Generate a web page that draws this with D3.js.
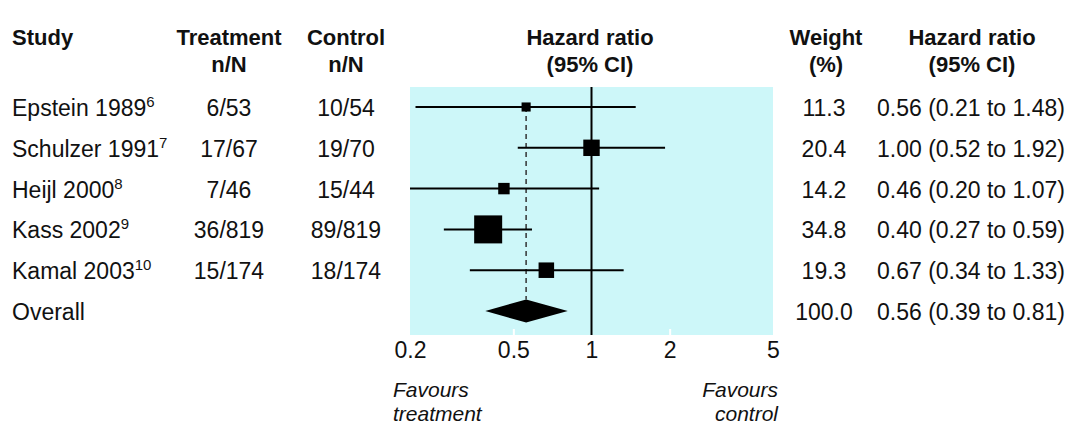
<!DOCTYPE html>
<html>
<head>
<meta charset="utf-8">
<script src="https://cdn.jsdelivr.net/npm/d3@7/dist/d3.min.js"></script>
<style>
  html, body { margin: 0; padding: 0; background: #fff; }
  svg { display: block; }
  .txt { font-family: "Liberation Sans", Arial, sans-serif; fill: #111; }
  .reg { font-size: 23px; }
  .hdr { font-size: 22px; font-weight: bold; }
  .ital { font-size: 21px; font-style: italic; }
</style>
</head>
<body>
<svg id="chart" width="1074" height="436"></svg>
<script>
// Trials in the meta-analysis
const studies = ["Epstein 1989", "Schulzer 1991", "Heijl 2000", "Kass 2002", "Kamal 2003"];
const refs = ["6", "7", "8", "9", "10"];
const treatment = ["6/53", "17/67", "7/46", "36/819", "15/174"];
const control = ["10/54", "19/70", "15/44", "89/819", "18/174"];
const weights = [11.3, 20.4, 14.2, 34.8, 19.3];
const hazard = [0.56, 1.00, 0.46, 0.40, 0.67];
const lower = [0.21, 0.52, 0.20, 0.27, 0.34];
const upper = [1.48, 1.92, 1.07, 0.59, 1.33];

// Pooled estimate
const overallLabel = "Overall";
const overallWeight = 100.0;
const overallHazard = 0.56;
const overallLower = 0.39;
const overallUpper = 0.81;

// Axis
const tickValues = [0.2, 0.5, 1, 2, 5];
const tickLabels = ["0.2", "0.5", "1", "2", "5"];

const svg = d3.select("#chart");

const x = d3.scaleLog().domain([0.2, 5]).range([410, 773]);
const y = d3.scaleLinear().domain([0, studies.length]).range([107, 311]);
const side = d3.scaleLinear().domain([0, 34.8]).range([0, 28]);

const plotTop = 87, plotBottom = 335;

// Shaded plotting panel
svg.append("rect")
  .attr("x", x(0.2)).attr("y", plotTop)
  .attr("width", x(5) - x(0.2)).attr("height", plotBottom - plotTop)
  .attr("fill", "#cdf7f9");

// Small white ticks inside the panel
svg.append("g")
  .attr("transform", `translate(0,${plotBottom})`)
  .call(d3.axisBottom(x).tickValues([0.5, 2]).tickSize(-6).tickFormat(""))
  .call(g => g.select(".domain").remove())
  .call(g => g.selectAll("line").attr("stroke", "#fff").attr("stroke-width", 2));

// Tick labels
svg.append("g")
  .attr("transform", `translate(0,${plotBottom})`)
  .call(d3.axisBottom(x).tickValues(tickValues).tickSize(0).tickPadding(7)
    .tickFormat((d, i) => tickLabels[i]))
  .call(g => g.select(".domain").remove())
  .call(g => g.selectAll("text").attr("class", "txt reg").attr("fill", "#111"));
svg.selectAll("g").attr("font-family", null).attr("font-size", null);

// Line of no effect
svg.append("line")
  .attr("x1", x(1)).attr("x2", x(1))
  .attr("y1", plotTop).attr("y2", plotBottom)
  .attr("stroke", "#000").attr("stroke-width", 2);

// Dashed line at the pooled estimate
const dSize = 23;
svg.append("line")
  .attr("x1", x(overallHazard)).attr("x2", x(overallHazard))
  .attr("y1", y(0)).attr("y2", y(studies.length) - dSize / 2)
  .attr("stroke", "#333").attr("stroke-width", 1.5)
  .attr("stroke-dasharray", "5,4");

// Confidence intervals
svg.append("g").selectAll("line")
  .data(studies)
  .join("line")
  .attr("x1", (d, i) => x(lower[i]))
  .attr("x2", (d, i) => x(upper[i]))
  .attr("y1", (d, i) => y(i)).attr("y2", (d, i) => y(i))
  .attr("stroke", "#000").attr("stroke-width", 2);

// Weighted squares
svg.append("g").selectAll("rect")
  .data(studies)
  .join("rect")
  .attr("x", (d, i) => x(hazard[i]) - side(weights[i]) / 2)
  .attr("y", (d, i) => y(i) - side(weights[i]) / 2)
  .attr("width", (d, i) => side(weights[i]))
  .attr("height", (d, i) => side(weights[i]))
  .attr("fill", "#000");

// Pooled diamond
const yo = y(studies.length);
svg.append("path")
  .attr("d", `M${x(overallLower)},${yo} L${x(overallHazard)},${yo - dSize / 2} L${x(overallUpper)},${yo} L${x(overallHazard)},${yo + dSize / 2} Z`)
  .attr("fill", "#000");

// Column headers
const headers = [
  { x: 12, anchor: "start", lines: ["Study"] },
  { x: 229, anchor: "middle", lines: ["Treatment", "n/N"] },
  { x: 346, anchor: "middle", lines: ["Control", "n/N"] },
  { x: 590, anchor: "middle", lines: ["Hazard ratio", "(95% CI)"] },
  { x: 826, anchor: "middle", lines: ["Weight", "(%)"] },
  { x: 972, anchor: "middle", lines: ["Hazard ratio", "(95% CI)"] }
];
headers.forEach(h => {
  h.lines.forEach((t, k) => {
    svg.append("text").attr("class", "txt hdr")
      .attr("x", h.x).attr("y", 45 + k * 27)
      .attr("text-anchor", h.anchor).text(t);
  });
});

const base = i => y(i) + 9;
const fmt = d3.format(".2f");

// Study names with reference superscripts
studies.forEach((s, i) => {
  const t = svg.append("text").attr("class", "txt reg")
    .attr("x", 12).attr("y", base(i));
  t.append("tspan").text(s);
  t.append("tspan").attr("dy", -9).attr("font-size", 15).text(refs[i]);
});
svg.append("text").attr("class", "txt reg")
  .attr("x", 12).attr("y", base(studies.length)).text(overallLabel);

// Event counts
studies.forEach((s, i) => {
  svg.append("text").attr("class", "txt reg").attr("text-anchor", "middle")
    .attr("x", 229).attr("y", base(i)).text(treatment[i]);
  svg.append("text").attr("class", "txt reg").attr("text-anchor", "middle")
    .attr("x", 346).attr("y", base(i)).text(control[i]);
});

// Weights and estimates
const allW = weights.concat([overallWeight]);
const allH = hazard.concat([overallHazard]);
const allL = lower.concat([overallLower]);
const allU = upper.concat([overallUpper]);
allW.forEach((w, i) => {
  svg.append("text").attr("class", "txt reg").attr("text-anchor", "middle")
    .attr("x", 824).attr("y", base(i)).text(d3.format(".1f")(w));
  svg.append("text").attr("class", "txt reg").attr("text-anchor", "middle")
    .attr("x", 971).attr("y", base(i))
    .text(`${fmt(allH[i])} (${fmt(allL[i])} to ${fmt(allU[i])})`);
});

// Direction labels
svg.append("text").attr("class", "txt ital").attr("x", 393).attr("y", 397).text("Favours");
svg.append("text").attr("class", "txt ital").attr("x", 393).attr("y", 421).text("treatment");
svg.append("text").attr("class", "txt ital").attr("x", 778).attr("y", 397).attr("text-anchor", "end").text("Favours");
svg.append("text").attr("class", "txt ital").attr("x", 778).attr("y", 421).attr("text-anchor", "end").text("control");
</script>
</body>
</html>
